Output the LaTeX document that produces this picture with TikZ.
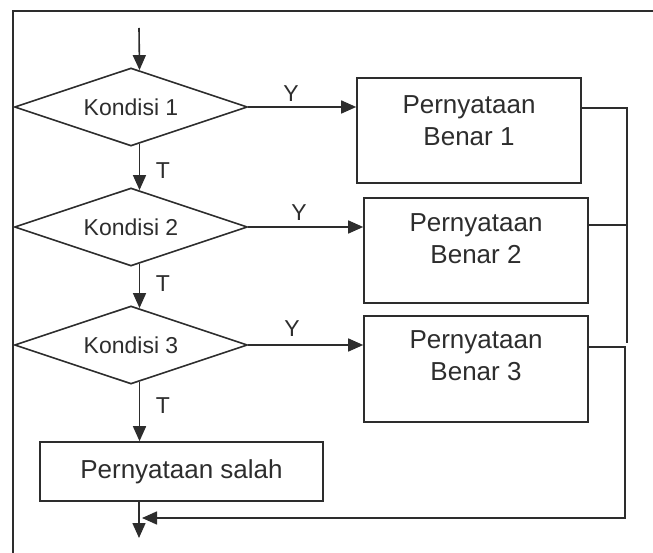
\documentclass[tikz,border=0pt]{standalone}
\usepackage{fontspec}
\setmainfont{Liberation Sans}
\usetikzlibrary{shapes.geometric,arrows.meta,calc}
\definecolor{ink}{RGB}{45,45,45}
\begin{document}
\begin{tikzpicture}[x=1pt,y=-1pt,
  every node/.style={text=ink},
  ln/.style={draw=ink, line width=1.6pt},
  arr/.style={ln, -{Triangle[length=15pt,width=13pt]}},
  cond/.style={diamond, aspect=3, draw=ink, line width=1.6pt, minimum width=233pt,
    minimum height=78pt, inner sep=0pt, font=\fontsize{23}{27}\selectfont},
  stmt/.style={rectangle, draw=ink, line width=1.6pt, inner sep=0pt,
    minimum width=224pt, minimum height=105pt},
  stext/.style={align=center, inner sep=0pt, font=\fontsize{26}{32}\selectfont},
  lbl/.style={inner sep=0pt, font=\fontsize{23}{27}\selectfont}]

\useasboundingbox (0,0) rectangle (653,553);

% outer frame (top and left sides)
\draw[ln] (653,11) -- (13,11) -- (13,553);

% decisions
\node[cond] (d1) at (131,107) {Kondisi 1};
\node[cond] (d2) at (131,227) {Kondisi 2};
\node[cond] (d3) at (131,345) {Kondisi 3};

% statement boxes
\node[stmt] (b1) at (469,130.5) {};
\node[stext] (t1) at (469,121) {Pernyataan\\Benar 1};
\node[stmt] (b2) at (476,250.5) {};
\node[stext] (t2) at (476,239) {Pernyataan\\Benar 2};
\node[stmt, minimum height=106pt] (b3) at (476,369) {};
\node[stext] (t3) at (476,356) {Pernyataan\\Benar 3};
\node[rectangle, draw=ink, line width=1.6pt, inner sep=0pt,
  minimum width=283pt, minimum height=59pt,
  font=\fontsize{26}{32}\selectfont] (b4) at (181.5,471.5) {Pernyataan salah};

% branch labels
\node[lbl] (y1) at (291,93.5) {Y};
\node[lbl] (y2) at (299,213) {Y};
\node[lbl] (y3) at (292,329) {Y};
\node[lbl] (n1) at (163,171) {T};
\node[lbl] (n2) at (163,284) {T};
\node[lbl] (n3) at (163,406) {T};

% helper points
\coordinate (start) at (139,28);
\coordinate (finish) at (139,538);
\coordinate (r1) at (627,108);
\coordinate (rend) at (627,343);
\coordinate (r2) at (627,225);
\coordinate (r3) at (625,347);
\coordinate (r4) at (625,518);
\coordinate (merge) at (142,518);

% main flow
\draw[arr] (start) -- (d1.77.6);
\draw[arr] (d1.-77.6) -- (d2.77.6);
\draw[arr] (d2.-77.6) -- (d3.77.6);
\draw[arr] (d3.-77.6) -- (d3.-77.6 |- b4.north);
\draw[arr] (b4.south -| start) -- (finish);

% true branches
\draw[arr] (d1.east) -- (d1.east -| b1.west);
\draw[arr] (d2.east) -- (d2.east -| b2.west);
\draw[arr] (d3.east) -- (d3.east -| b3.west);

% return lines
\draw[ln] (b1.east |- r1) -- (r1) -- (rend);
\draw[ln] (b2.east |- r2) -- (r2);
\draw[arr] (b3.east |- r3) -- (r3) -- (r4) -- (merge);
\end{tikzpicture}
\end{document}
